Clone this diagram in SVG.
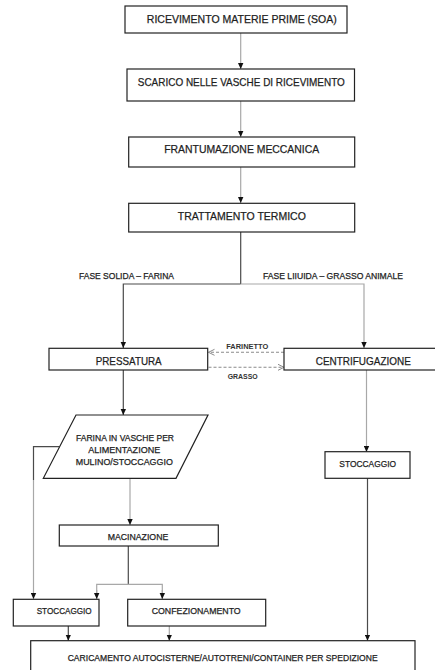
<svg xmlns="http://www.w3.org/2000/svg" width="435" height="670" viewBox="0 0 435 670">
  <style>
    .box { fill: #ffffff; stroke: #222222; stroke-width: 1.2; }
    text { font-family: "Liberation Sans", Arial, sans-serif; fill: #1e1e1e; stroke: #1e1e1e; stroke-width: 0.25; text-anchor: middle; }
    .big { font-size: 11px; }
    .small { font-size: 9px; }
    .lbl { font-size: 8.5px; }
    .tiny { font-size: 8px; font-weight: bold; fill: #333333; stroke: none; }
    .lite { fill: none; stroke: #a8a8a8; stroke-width: 1.2; }
    .dark { fill: none; stroke: #4a4a4a; stroke-width: 1.2; }
    .dash { fill: none; stroke: #8a8a8a; stroke-width: 1.1; stroke-dasharray: 3 2; }
  </style>
  <defs>
    <!-- solid arrowhead, tip on the end of the line -->
    <marker id="tri" markerUnits="userSpaceOnUse" markerWidth="6" markerHeight="6" viewBox="0 0 6 6" refX="6" refY="3" orient="auto">
      <path d="M0,0.3 L6,3 L0,5.7 Z" fill="#111111"/>
    </marker>
    <!-- open chevron for the dashed exchanges -->
    <marker id="chev" markerUnits="userSpaceOnUse" markerWidth="8" markerHeight="8" viewBox="0 0 8 8" refX="7" refY="4" orient="auto">
      <path d="M1,1 L7,4 L1,7" fill="none" stroke="#8a8a8a" stroke-width="1"/>
    </marker>
  </defs>

  <rect width="435" height="670" fill="#ffffff"/>

  <!-- connectors -->
  <g id="connectors">
    <line class="lite" x1="240.7" y1="33" x2="240.7" y2="69" marker-end="url(#tri)"/>
    <line class="lite" x1="240.7" y1="101" x2="240.7" y2="137" marker-end="url(#tri)"/>
    <line class="lite" x1="240.7" y1="167" x2="240.7" y2="203" marker-end="url(#tri)"/>
    <polyline class="dark" points="240.7,232 240.7,284"/>
    <polyline class="dark" points="240.7,284 123.3,284 123.3,348" marker-end="url(#tri)"/>
    <polyline class="lite" points="240.7,284 364,284 364,348" marker-end="url(#tri)"/>
    <line class="dash" x1="284" y1="352.3" x2="208.5" y2="352.3" marker-end="url(#chev)"/>
    <line class="dash" x1="208.5" y1="367.3" x2="284" y2="367.3" marker-end="url(#chev)"/>
    <line class="dark" x1="123.3" y1="370" x2="123.3" y2="415" marker-end="url(#tri)"/>
    <line class="lite" x1="366.5" y1="370" x2="366.5" y2="452" marker-end="url(#tri)"/>
    <polyline class="dark" points="59.4,446.7 33.5,446.7 33.5,480"/>
    <line class="lite" x1="33.5" y1="480" x2="33.5" y2="599" marker-end="url(#tri)"/>
    <line class="lite" x1="130" y1="478" x2="130" y2="525" marker-end="url(#tri)"/>
    <line class="dark" x1="128.3" y1="546" x2="128.3" y2="584.3"/>
    <polyline class="lite" points="96.7,599 96.7,584.3 162.3,584.3 162.3,599"/>
    <line class="lite" x1="96.7" y1="590" x2="96.7" y2="599" marker-end="url(#tri)"/>
    <line class="lite" x1="162.3" y1="590" x2="162.3" y2="599" marker-end="url(#tri)"/>
    <line class="dark" x1="68.3" y1="626" x2="68.3" y2="640.7" marker-end="url(#tri)"/>
    <line class="lite" x1="169.3" y1="626" x2="169.3" y2="640.7" marker-end="url(#tri)"/>
    <line class="dark" x1="367.5" y1="478.3" x2="367.5" y2="640.7" marker-end="url(#tri)"/>
  </g>

  <!-- edge labels -->
  <g id="edge-labels">
    <text class="lbl" x="126.5" y="278.7" textLength="95" lengthAdjust="spacingAndGlyphs">FASE SOLIDA – FARINA</text>
    <text class="lbl" x="333" y="278.7" textLength="140" lengthAdjust="spacingAndGlyphs">FASE LIIUIDA – GRASSO ANIMALE</text>
    <text class="tiny" x="247.2" y="348.6" textLength="42" lengthAdjust="spacingAndGlyphs">FARINETTO</text>
    <text class="tiny" x="242.7" y="378.9" textLength="30" lengthAdjust="spacingAndGlyphs">GRASSO</text>
  </g>

  <!-- nodes -->
  <g id="n-ricevimento">
    <rect class="box" x="125" y="6" width="222" height="27"/>
    <text class="big" x="241.8" y="23.4" textLength="190" lengthAdjust="spacingAndGlyphs">RICEVIMENTO MATERIE PRIME (SOA)</text>
  </g>
  <g id="n-scarico">
    <rect class="box" x="127" y="69" width="227.5" height="32"/>
    <text class="big" x="241.3" y="85.6" textLength="207" lengthAdjust="spacingAndGlyphs">SCARICO NELLE VASCHE DI RICEVIMENTO</text>
  </g>
  <g id="n-frantumazione">
    <rect class="box" x="128.7" y="137" width="226" height="30"/>
    <text class="big" x="241.7" y="153.2" textLength="155" lengthAdjust="spacingAndGlyphs">FRANTUMAZIONE MECCANICA</text>
  </g>
  <g id="n-trattamento">
    <rect class="box" x="128.7" y="203.3" width="226" height="28.7"/>
    <text class="big" x="241.8" y="219.6" textLength="128" lengthAdjust="spacingAndGlyphs">TRATTAMENTO TERMICO</text>
  </g>
  <g id="n-pressatura">
    <rect class="box" x="49" y="348.3" width="158.7" height="21.7"/>
    <text class="big" x="128.7" y="364.6" textLength="66" lengthAdjust="spacingAndGlyphs">PRESSATURA</text>
  </g>
  <g id="n-centrifugazione">
    <rect class="box" x="284" y="348.3" width="160" height="21.7"/>
    <text class="big" x="363.3" y="364.6" textLength="95" lengthAdjust="spacingAndGlyphs">CENTRIFUGAZIONE</text>
  </g>
  <g id="n-farina-vasche">
    <polygon class="box" points="76,415 208,415 176,478.3 43.3,478.3"/>
    <text class="small" x="125" y="440.5" textLength="98" lengthAdjust="spacingAndGlyphs">FARINA IN VASCHE PER</text>
    <text class="small" x="124.2" y="452.5" textLength="72" lengthAdjust="spacingAndGlyphs">ALIMENTAZIONE</text>
    <text class="small" x="124.3" y="464.9" textLength="97" lengthAdjust="spacingAndGlyphs">MULINO/STOCCAGGIO</text>
  </g>
  <g id="n-stoccaggio-grasso">
    <rect class="box" x="325" y="451.7" width="85" height="26.6"/>
    <text class="small" x="367.7" y="466.5" textLength="56.7" lengthAdjust="spacingAndGlyphs">STOCCAGGIO</text>
  </g>
  <g id="n-macinazione">
    <rect class="box" x="59.3" y="525" width="159" height="21"/>
    <text class="small" x="138" y="539.9" textLength="60.6" lengthAdjust="spacingAndGlyphs">MACINAZIONE</text>
  </g>
  <g id="n-stoccaggio-farina">
    <rect class="box" x="13.3" y="599.3" width="85.7" height="26.7"/>
    <text class="small" x="64.2" y="613.9" textLength="55" lengthAdjust="spacingAndGlyphs">STOCCAGGIO</text>
  </g>
  <g id="n-confezionamento">
    <rect class="box" x="127.7" y="599.3" width="138" height="26.7"/>
    <text class="small" x="196.2" y="613.9" textLength="89" lengthAdjust="spacingAndGlyphs">CONFEZIONAMENTO</text>
  </g>
  <g id="n-caricamento">
    <rect class="box" x="30.7" y="640.7" width="384.3" height="40"/>
    <text class="small" x="222.7" y="660.5" textLength="310" lengthAdjust="spacingAndGlyphs">CARICAMENTO AUTOCISTERNE/AUTOTRENI/CONTAINER PER SPEDIZIONE</text>
  </g>
</svg>
